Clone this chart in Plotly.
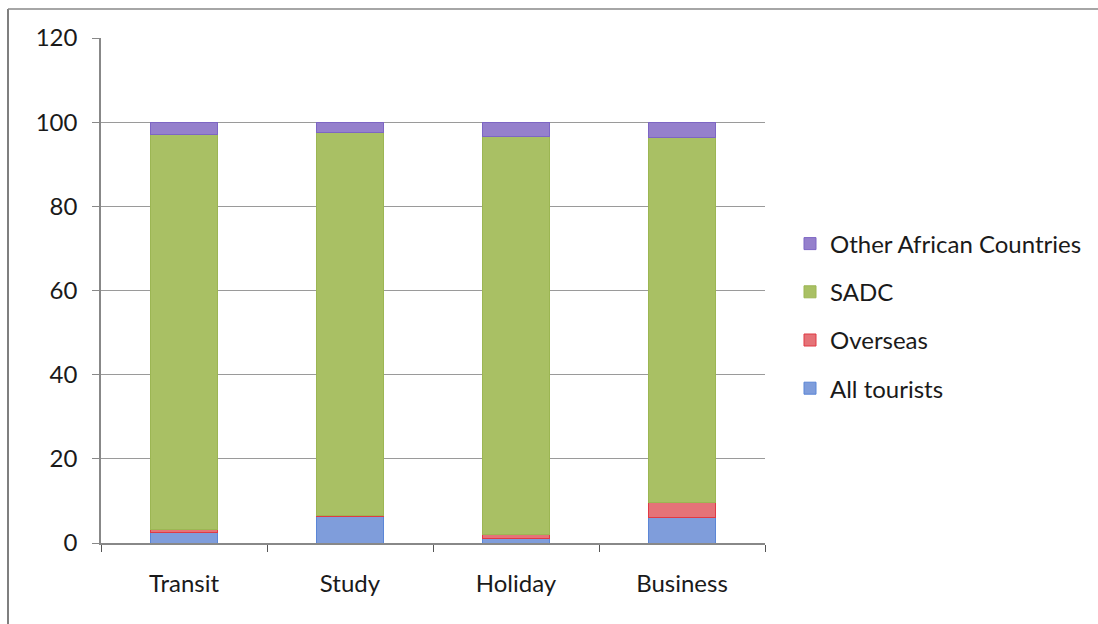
import plotly.graph_objects as go

categories = ["Transit", "Study", "Holiday", "Business"]
all_tourists = [2.4, 6.2, 1.0, 6.1]
overseas = [0.9, 0.4, 1.0, 3.6]
sadc = [93.7, 90.9, 94.7, 86.6]
other_african = [3.0, 2.5, 3.3, 3.7]

series = [
    ("All tourists", all_tourists, "#7f9ddb", "#5b86d6"),
    ("Overseas", overseas, "#e57378", "#e03a45"),
    ("SADC", sadc, "#a9c064", "#9cb653"),
    ("Other African Countries", other_african, "#9580cc", "#7d66c4"),
]

fig = go.Figure()
for i, (name, vals, col, lc) in enumerate(series):
    fig.add_trace(go.Bar(
        x=categories, y=vals, name=name, legendgroup=f"g{i}",
        legendrank=1000 - i,
        marker=dict(color=col, line=dict(color=lc, width=1)),
    ))

fig.update_layout(
    width=1098, height=624,
    barmode="stack", bargap=0.6,
    paper_bgcolor="white", plot_bgcolor="white",
    margin=dict(l=101, r=333, t=38, b=81, autoexpand=False),
    font=dict(family="Lato, Open Sans, sans-serif", size=24, color="#1a1a1a"),
    showlegend=True,
    legend=dict(
        x=(790 - 101) / 664, xanchor="left", xref="paper",
        y=(543 - 316) / 505, yanchor="middle",
        traceorder="grouped", tracegroupgap=14,
        font=dict(size=24), itemwidth=30,
    ),
    shapes=[
        dict(type="line", xref="paper", yref="paper", x0=-93/664, x1=-93/664,
             y0=(543 - 9) / 505, y1=-1, line=dict(color="#555", width=1.5)),
        dict(type="line", xref="paper", yref="paper", x0=-93/664, x1=2,
             y0=(543 - 9) / 505, y1=(543 - 9) / 505, line=dict(color="#888", width=1.5)),
    ],
)

fig.update_xaxes(
    showline=True, linecolor="#888", linewidth=1.5,
    ticks="outside", tickson="boundaries", ticklen=7, tickcolor="#555",
    tickfont=dict(size=24), showgrid=False, ticklabelstandoff=18,
)
fig.update_yaxes(
    range=[0, 120], dtick=20, showline=True, linecolor="#888", linewidth=1.5,
    ticks="outside", ticklen=7, tickcolor="#888",
    showgrid=True, gridcolor="#9a9a9a", gridwidth=1,
    tickfont=dict(size=24), zeroline=False, ticklabelstandoff=10,
)

fig.write_html("out.html")
